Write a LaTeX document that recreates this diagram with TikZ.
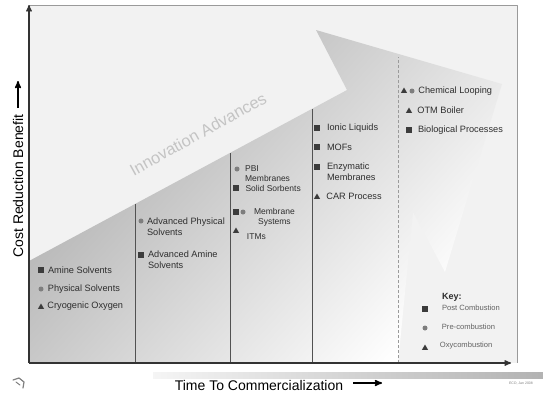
\documentclass[tikz,border=0pt]{standalone}
\usepackage{fontspec}
\setmainfont{Liberation Sans}
\usetikzlibrary{arrows,positioning,shapes.geometric}

\definecolor{panel}{HTML}{F2F2F2}
\definecolor{framec}{HTML}{9A9A9A}
\definecolor{axisc}{HTML}{333333}
\definecolor{ink}{HTML}{2E2E2E}
\definecolor{markc}{HTML}{3C3C3C}
\definecolor{markdot}{HTML}{7E7E7E}
\definecolor{wave}{HTML}{ACACAC}
\definecolor{faint}{HTML}{C4C4C4}

\tikzset{
  sq/.style={rectangle,fill=markc,inner sep=0pt,minimum size=5.2pt},
  dot/.style={circle,fill=markdot,inner sep=0pt,minimum size=5pt},
  tri/.style={regular polygon,regular polygon sides=3,fill=markc,inner sep=0pt,minimum size=7pt},
  lbl/.style={font=\fontsize{9.2}{11}\selectfont,text=ink,inner sep=0pt,align=left},
  lblsmall/.style={lbl,font=\fontsize{8.5}{9.5}\selectfont},
  two/.style={anchor=north west,yshift=1.5pt},
  keylbl/.style={font=\fontsize{7.6}{9}\selectfont,text=ink!75,inner sep=0pt},
  divider/.style={draw=axisc!85,line width=0.9pt},
}

\begin{document}
\begin{tikzpicture}[x=1pt,y=-1pt,>=stealth',line join=round]
\useasboundingbox (0,0) rectangle (543,394);

\coordinate (O)    at (29,363);
\coordinate (ytop) at (29,5);
\coordinate (xend) at (511,363);
\coordinate (NE)   at (517,5);
\coordinate (SE)   at (517,363);

\fill[panel] (ytop) rectangle (SE);

% the big arrow
\shade[shading=axis,top color=wave,bottom color=white,shading angle=48.2]
  (29,261) -- (347,90) -- (316,30) -- (502,84) -- (445,272) -- (413,212)
  -- (398,363) -- (O) -- cycle;

\node[text=faint,rotate=29,font=\fontsize{16.5}{18}\selectfont] (innov) at (198,134) {Innovation Advances};

\draw[framec,line width=0.6pt] (ytop) -- (NE) -- (SE);

\draw[divider] (135,363) -- (135,204);
\draw[divider] (230,363) -- (230,153);
\draw[divider] (312,363) -- (312,109);
\draw[framec,line width=0.9pt,dash pattern=on 3pt off 2pt] (398,363) -- (398,57);

\draw[->,axisc,line width=1.3pt] (O) -- (ytop);
\draw[->,axisc,line width=1.3pt] (O) -- (xend);

% axis titles
\node[rotate=90,font=\fontsize{14}{16}\selectfont,inner sep=0pt] (ylab) at (18,186) {Cost Reduction Benefit};
\coordinate (yarr) at (18,81);
\draw[->,line width=1.5pt] ([yshift=6pt]ylab.east) -- (yarr);

\node[font=\fontsize{14}{16}\selectfont,inner sep=0pt] (xlab) at (259,385) {Time To Commercialization};
\coordinate (xarr) at (382,383);
\draw[->,line width=1.5pt] ([xshift=10pt,yshift=2pt]xlab.east) -- (xarr);

\shade[left color=gray!8,right color=gray!60] (153,372) rectangle (543,378);
\node[font=\fontsize{3.5}{4}\selectfont,text=gray,inner sep=0pt] (stamp) at (521,383) {ECD, Jan 2008};
\draw[gray,line width=1.2pt,line cap=round] (13,380) -- (19,378) -- (24,382) -- (23,388);
\draw[gray,line width=1pt,line cap=round] (16,382) -- (20,385);

% today
\node[sq]  (amine) at (41,270) {};
\node[dot] (phys)  at (41,289) {};
\node[tri] (cryo)  at (41,307) {};
\node[lbl,right=4pt of amine] (amineT) {Amine Solvents};
\node[lbl,right=4pt of phys]  (physT)  {Physical Solvents};
\node[lbl,right=4pt of cryo,yshift=1pt] (cryoT) {Cryogenic Oxygen};

% 2nd generation
\node[dot] (advphys)  at (141,221) {};
\node[sq]  (advamine) at (141,255) {};
\node[lbl,right=4pt of advphys.north east,two]  (advphysT)  {Advanced Physical\\Solvents};
\node[lbl,right=4pt of advamine.north east,two] (advamineT) {Advanced Amine\\Solvents};

% 3rd generation
\node[dot] (pbi)    at (237,169) {};
\node[sq]  (solid)  at (236,188) {};
\node[sq]  (memsq)  at (236,212) {};
\node[dot] (memdot) at (243,212) {};
\node[tri] (itm)    at (236,231) {};
\node[lblsmall,right=6pt of pbi.north east,two] (pbiT) {PBI\\Membranes};
\node[lblsmall,right=6.5pt of solid] (solidT) {Solid Sorbents};
\node[lblsmall,align=center,right=9pt of memdot.north east,two] (memT) {Membrane\\Systems};
\node[lblsmall,right=8.5pt of itm,yshift=-6pt] (itmT) {ITMs};

% 4th generation
\node[sq]  (ionic) at (317,128) {};
\node[sq]  (mof)   at (317,147) {};
\node[sq]  (enzy)  at (317,167) {};
\node[tri] (car)   at (317,197) {};
\node[lbl,right=7pt of ionic] (ionicT) {Ionic Liquids};
\node[lbl,right=7pt of mof]   (mofT)   {MOFs};
\node[lbl,right=7pt of enzy.north east,two] (enzyT) {Enzymatic\\Membranes};
\node[lbl,right=7pt of car,yshift=1pt] (carT) {CAR Process};

% beyond
\node[tri] (chemtri) at (404,91) {};
\node[dot] (chemdot) at (412,91) {};
\node[tri] (otm)     at (409,111) {};
\node[sq]  (bio)     at (409,130) {};
\node[lbl,right=3.5pt of chemdot] (chemT) {Chemical Looping};
\node[lbl,right=6pt of otm,yshift=1pt] (otmT) {OTM Boiler};
\node[lbl,right=6pt of bio] (bioT) {Biological Processes};

% key
\node[font=\fontsize{9}{10}\selectfont\bfseries,text=ink,inner sep=0pt,anchor=west] (keyT) at (442,297) {Key:};
\node[sq]  (kpost) at (425,309) {};
\node[dot] (kpre)  at (425,328) {};
\node[tri] (koxy)  at (425,348) {};
\node[keylbl,right=14pt of kpost,yshift=1.5pt] (kpostT) {Post Combustion};
\node[keylbl,right=14pt of kpre,yshift=1pt]    (kpreT)  {Pre-combustion};
\node[keylbl,right=12.5pt of koxy,yshift=2pt]  (koxyT)  {Oxycombustion};
\end{tikzpicture}
\end{document}
